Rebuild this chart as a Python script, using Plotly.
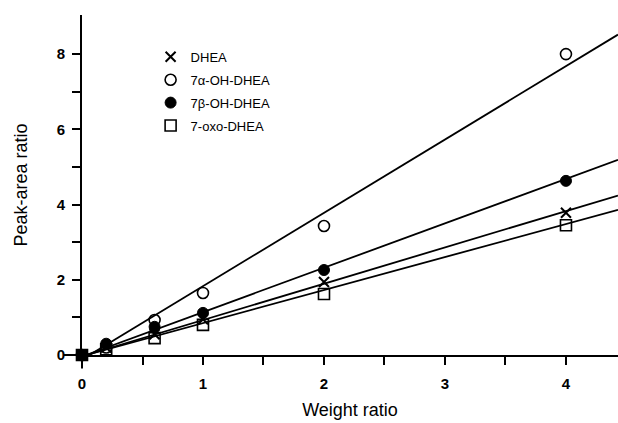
import numpy as np
import plotly.graph_objects as go

# ---- data ----
weight_ratio = [0, 0.2, 0.6, 1.0, 2.0, 4.0]
series_names = ["DHEA", "7α-OH-DHEA", "7β-OH-DHEA", "7-oxo-DHEA"]
dhea = [0, 0.2, 0.55, 0.95, 1.94, 3.78]
oh7a = [0, 0.2, 0.93, 1.65, 3.43, 8.0]
oh7b = [0, 0.3, 0.75, 1.12, 2.26, 4.63]
oxo7 = [0, 0.15, 0.45, 0.80, 1.62, 3.45]
# fitted regression lines (slope, intercept)
fit_slope = [0.965, 1.95, 1.18, 0.878]
fit_intercept = [-0.035, -0.12, -0.04, -0.03]

x_ticks = [0, 0.5, 1, 1.5, 2, 2.5, 3, 3.5, 4]
x_ticklabels = ["0", "", "1", "", "2", "", "3", "", "4"]
y_ticks = [0, 1, 2, 3, 4, 5, 6, 7, 8]
y_ticklabels = ["0", "", "2", "", "4", "", "6", "", "8"]

X_MAX = 4.43
Y_MAX = 9.04

FONT = "Liberation Sans, Arial, sans-serif"

symbols = [
    dict(symbol="x-thin", size=10, color="black", line=dict(color="black", width=2)),
    dict(symbol="circle-open", size=11, color="black", line=dict(color="black", width=1.6)),
    dict(symbol="circle", size=11, color="black", line=dict(color="black", width=1)),
    dict(symbol="square-open", size=11, color="black", line=dict(color="black", width=1.6)),
]
values = [dhea, oh7a, oh7b, oxo7]

fig = go.Figure()

# regression lines
for s, b in zip(fit_slope, fit_intercept):
    x0 = -b / s
    xs = np.array([x0, X_MAX])
    fig.add_trace(go.Scatter(x=xs, y=s * xs + b, mode="lines",
                             line=dict(color="black", width=1.8),
                             showlegend=False, hoverinfo="skip"))

# markers
for i, (name, vals, mk) in enumerate(zip(series_names, values, symbols)):
    fig.add_trace(go.Scatter(x=weight_ratio, y=vals, mode="markers", name=name,
                             marker=mk, cliponaxis=False,
                             legendgroup=f"g{i}"))

axis_common = dict(
    showline=True, linecolor="black", linewidth=2,
    ticks="outside", ticklen=8, tickwidth=2, tickcolor="black",
    showgrid=False, zeroline=False,
    tickfont=dict(family=FONT, size=15, color="black", weight="bold"),
)

fig.update_layout(
    width=618, height=423,
    margin=dict(l=82, r=0, t=15, b=68),
    paper_bgcolor="white", plot_bgcolor="white",
    font=dict(family=FONT, color="black"),
    xaxis=dict(range=[0, X_MAX], tickmode="array", tickvals=x_ticks,
               ticktext=x_ticklabels, ticklabelstandoff=6,
               title=dict(text="Weight ratio", font=dict(family=FONT, size=18, color="black"),
                          standoff=12),
               **axis_common),
    yaxis=dict(range=[0, Y_MAX], tickmode="array", tickvals=y_ticks,
               ticktext=y_ticklabels, ticklabelstandoff=4,
               title=dict(text="Peak-area ratio", font=dict(family=FONT, size=18, color="black"),
                          standoff=24),
               **axis_common),
    legend=dict(x=0.128, y=0.921, xanchor="left", yanchor="top",
                font=dict(family=FONT, size=13, color="black"),
                bgcolor="rgba(0,0,0,0)", tracegroupgap=3, itemwidth=30),
    shapes=[
        # axis overhangs (x-axis extends left of the y-axis, y-axis extends below x-axis)
        dict(type="line", xref="paper", yref="paper", x0=-0.035, x1=0, y0=0, y1=0,
             line=dict(color="black", width=2)),
        dict(type="line", xref="paper", yref="paper", x0=0, x1=0, y0=-0.04, y1=0,
             line=dict(color="black", width=2)),
    ],
)

fig.write_html("out.html")
